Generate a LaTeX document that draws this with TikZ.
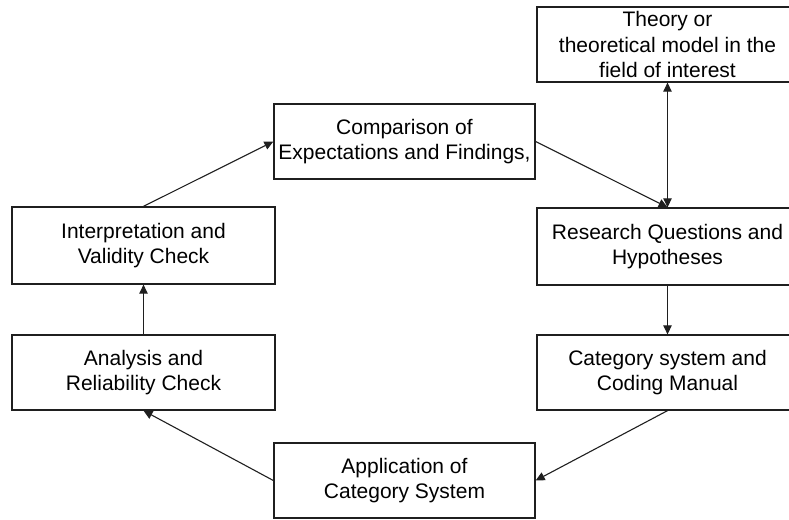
\documentclass[tikz,border=0pt]{standalone}
\usepackage{fontspec}
\setmainfont{Liberation Sans}
\usetikzlibrary{arrows.meta}
\begin{document}
\begin{tikzpicture}[x=1pt,y=-1pt,
  box/.style={draw=black!88, line width=1.3pt, fill=white, align=center,
    font=\fontsize{21}{25.5}\selectfont, inner sep=0pt},
  tip/.tip={Triangle[length=9pt,width=8.5pt]},
  link/.style={draw=black!88, line width=1.1pt, -tip},
  twoway/.style={link, tip-tip}]
  \useasboundingbox (0,0) rectangle (789,519);
  \clip (0,0) rectangle (789,519);

  % process steps
  \node[box, minimum width=261pt, minimum height=75pt] (theory) at (667.5,44.5)
    {Theory or\\theoretical model in the\\field of interest};
  \node[box, minimum width=261pt, minimum height=75pt] (comp) at (404.5,141.5)
    {Comparison of\\Expectations and Findings,};
  \node[box, minimum width=263pt, minimum height=77pt] (interp) at (143.5,245.5)
    {Interpretation and\\Validity Check};
  \node[box, minimum width=261pt, minimum height=77pt] (research) at (667.5,246.5)
    {Research Questions and\\Hypotheses};
  \node[box, minimum width=263pt, minimum height=75pt] (analysis) at (143.5,372.5)
    {Analysis and\\Reliability Check};
  \node[box, minimum width=261pt, minimum height=75pt] (category) at (667.5,372.5)
    {Category system and\\Coding Manual};
  \node[box, minimum width=261pt, minimum height=75pt] (application) at (404.5,480.5)
    {Application of\\Category System};

  % flow between steps
  \draw[twoway] (theory.south) -- (research.north);
  \draw[link] (comp.east) -- (research.north);
  \draw[link] (research.south) -- (category.north);
  \draw[link] (category.south) -- (application.east);
  \draw[link] (application.west) -- (analysis.south);
  \draw[link] (analysis.north) -- (interp.south);
  \draw[link] (interp.north) -- (comp.west);
\end{tikzpicture}
\end{document}
